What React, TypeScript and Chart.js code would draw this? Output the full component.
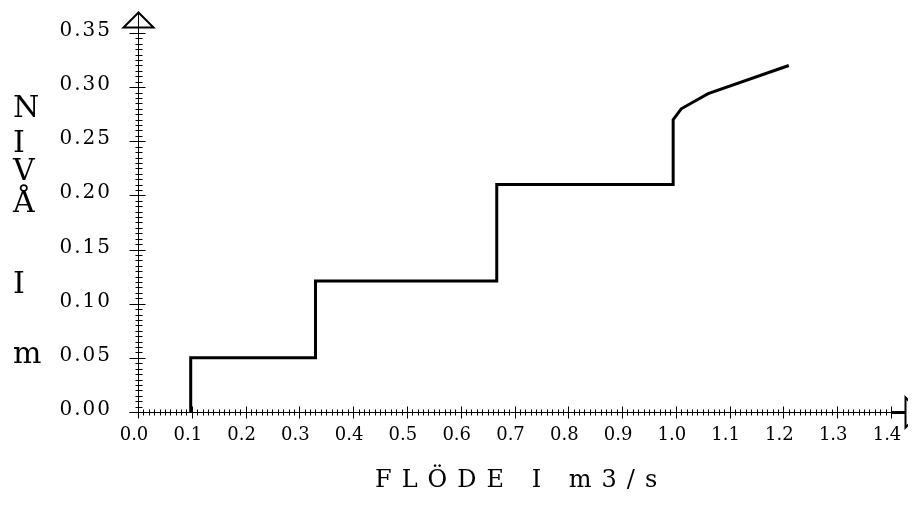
import { useEffect, useRef } from "react";
import { Chart, registerables } from "chart.js";

Chart.register(...registerables);

// Data (flow in m3/s, level in m)
const flowX = [0.098, 0.098, 0.33, 0.33, 0.667, 0.667, 0.995, 0.995, 1.01, 1.06, 1.21];
const levelY = [0.0, 0.05, 0.05, 0.121, 0.121, 0.21, 0.21, 0.27, 0.28, 0.294, 0.32];

const xTickLabels = ["0.0", "0.1", "0.2", "0.3", "0.4", "0.5", "0.6", "0.7", "0.8", "0.9", "1.0", "1.1", "1.2", "1.3", "1.4"];
const yTickLabels = ["0.00", "0.05", "0.10", "0.15", "0.20", "0.25", "0.30", "0.35"];

const xTitle = "FLÖDE I m3/s";
const yTitleLetters = ["N", "I", "V", "Å", "I", "m"];
const yTitleBaselines = [109, 144, 172, 204, 285, 355];

const FONT = "'DejaVu Serif', 'Liberation Serif', serif";

const axesPlugin = {
  id: "axesDecor",
  afterDraw(chart: any) {
    const ctx = chart.ctx as CanvasRenderingContext2D;
    const xs = chart.scales.x;
    const ys = chart.scales.y;
    const px = (v: number) => Math.round(xs.getPixelForValue(v)) + 0.5;
    const py = (v: number) => Math.round(ys.getPixelForValue(v)) + 0.5;
    const x0 = px(0);
    const y0 = py(0);
    const xEnd = px(1.4);
    const yTop = py(0.35);

    ctx.save();
    ctx.strokeStyle = "#000";
    ctx.fillStyle = "#000";
    ctx.lineWidth = 1;

    // y axis line + arrow
    ctx.beginPath();
    ctx.moveTo(x0, y0 + 4);
    ctx.lineTo(x0, yTop - 21);
    ctx.stroke();
    ctx.lineWidth = 2;
    ctx.beginPath();
    ctx.moveTo(x0, yTop - 21);
    ctx.lineTo(x0 - 15, yTop - 6);
    ctx.lineTo(x0 + 15, yTop - 6);
    ctx.closePath();
    ctx.stroke();

    // x axis line + arrow
    ctx.lineWidth = 1;
    ctx.beginPath();
    ctx.moveTo(x0 - 9, y0);
    ctx.lineTo(xEnd, y0);
    ctx.stroke();
    ctx.lineWidth = 3;
    ctx.beginPath();
    ctx.moveTo(xEnd, y0);
    ctx.lineTo(xEnd + 14, y0);
    ctx.stroke();
    ctx.lineWidth = 2;
    ctx.beginPath();
    ctx.moveTo(xEnd + 14, y0 - 15);
    ctx.lineTo(xEnd + 29, y0);
    ctx.lineTo(xEnd + 14, y0 + 15);
    ctx.closePath();
    ctx.stroke();

    // y ticks
    ctx.lineWidth = 1;
    for (let i = 0; i <= 70; i++) {
      const y = py(i * 0.005);
      ctx.beginPath();
      if (i % 10 === 0) {
        ctx.moveTo(x0 - 9, y);
        ctx.lineTo(x0 + 7, y);
      } else {
        ctx.moveTo(x0 - 3, y);
        ctx.lineTo(x0 + 4, y);
      }
      ctx.stroke();
    }
    // x ticks
    for (let i = 0; i <= 140; i++) {
      const x = px(i * 0.01);
      ctx.beginPath();
      if (i % 10 === 0) {
        ctx.moveTo(x, y0 - 6);
        ctx.lineTo(x, y0 + 6);
      } else {
        ctx.moveTo(x, y0 - 3);
        ctx.lineTo(x, y0 + 3);
      }
      ctx.stroke();
    }

    // y tick labels
    ctx.font = `20px ${FONT}`;
    (ctx as any).letterSpacing = "2px";
    ctx.textAlign = "right";
    ctx.textBaseline = "alphabetic";
    yTickLabels.forEach((lab) => {
      const y = ys.getPixelForValue(parseFloat(lab));
      ctx.fillText(lab, 104, y + 3);
    });

    // x tick labels
    ctx.font = `18px ${FONT}`;
    (ctx as any).letterSpacing = "0px";
    ctx.textAlign = "center";
    xTickLabels.forEach((lab) => {
      const x = xs.getPixelForValue(parseFloat(lab));
      ctx.fillText(lab, x - 4, 432);
    });

    // x title
    ctx.font = `24px ${FONT}`;
    (ctx as any).letterSpacing = "10px";
    ctx.textAlign = "left";
    ctx.fillText(xTitle, 367, 479);

    // y title (stacked letters)
    ctx.font = `30px ${FONT}`;
    (ctx as any).letterSpacing = "0px";
    ctx.textAlign = "left";
    yTitleLetters.forEach((ch, i) => {
      ctx.fillText(ch, 5, yTitleBaselines[i]);
    });

    ctx.restore();
  },
};

export default function App() {
  const ref = useRef<HTMLCanvasElement | null>(null);
  useEffect(() => {
    if (!ref.current) return;
    const chart = new Chart(ref.current, {
      type: "line",
      data: {
        datasets: [
          {
            data: flowX.map((x, i) => ({ x, y: levelY[i] })),
            borderColor: "#000",
            borderWidth: 3,
            pointRadius: 0,
            tension: 0,
            fill: false,
            borderJoinStyle: "miter",
          },
        ],
      },
      options: {
        animation: false,
        responsive: false,
        layout: { padding: { left: 130, right: 17, top: 25, bottom: 86 } },
        plugins: { legend: { display: false }, tooltip: { enabled: false }, title: { display: false } },
        scales: {
          x: { type: "linear", min: 0, max: 1.4, display: false },
          y: { type: "linear", min: 0, max: 0.35, display: false },
        },
      },
      plugins: [axesPlugin],
    });
    return () => chart.destroy();
  }, []);
  return (
    <div style={{ width: 900, height: 490 }}>
      <canvas ref={ref} width={900} height={490} style={{ display: "block" }} />
    </div>
  );
}
